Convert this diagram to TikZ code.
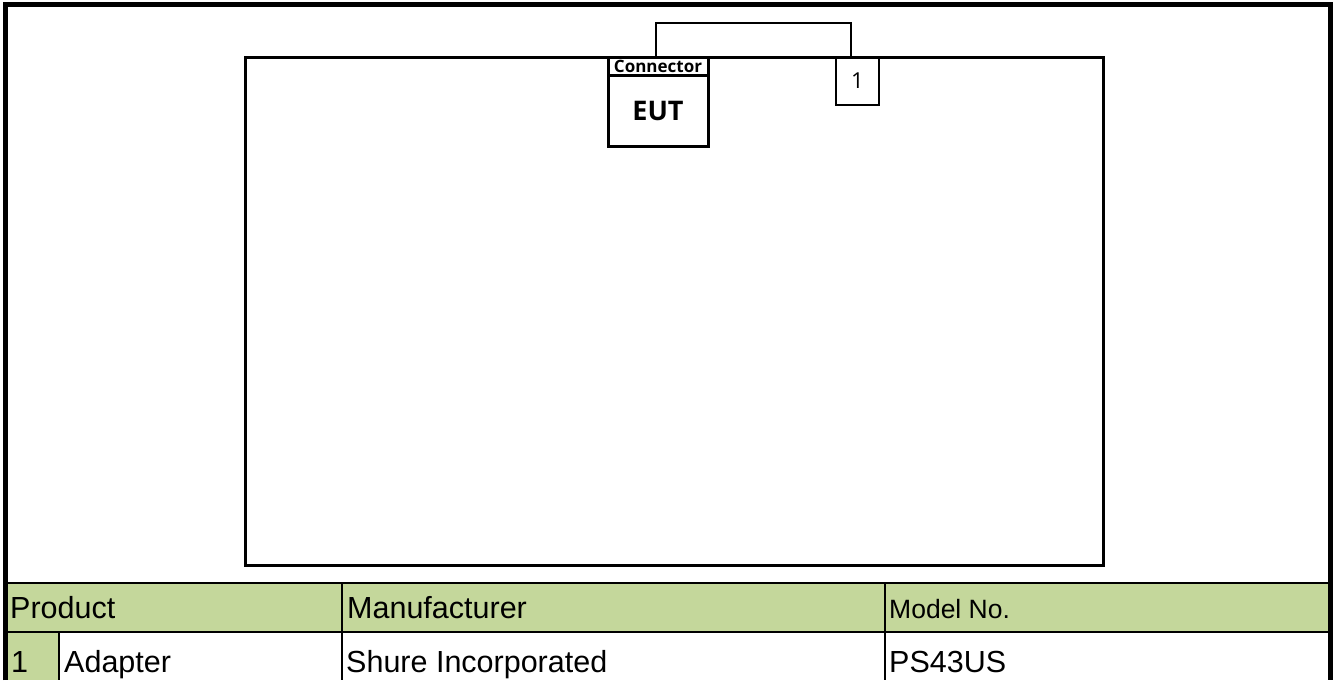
\documentclass[tikz,border=0pt]{standalone}
\usepackage{fontspec}
\setmainfont{Liberation Sans}
\newfontfamily\diagfont{Open Sans}
\usetikzlibrary{positioning}
\definecolor{cellgreen}{HTML}{C4D79B}

\begin{document}
\begin{tikzpicture}[
  x=1pt, y=-1pt,
  box/.style={draw, rectangle, line width=3pt, inner sep=0pt, outer sep=0pt, align=center},
  cell/.style={anchor=base west, inner sep=0pt, font=\fontsize{30.5}{32}\selectfont},
  grid/.style={line width=2.5pt}
]
  \useasboundingbox (0,0) rectangle (1335,680);

  % setup area
  \node[box, minimum width=858pt, minimum height=508pt] (setup) at (674,311) {};
  \node[box, minimum width=100pt, minimum height=71pt,
        font=\diagfont\bfseries\fontsize{27}{29}\selectfont] (eut) at (658,110.5) {EUT};
  \node[box, minimum width=100pt, minimum height=18pt, text height=12pt, text depth=0pt,
        font=\diagfont\bfseries\fontsize{17}{18}\selectfont, above=0pt of eut] (conn) {Connector};
  \node[box, line width=2.5pt, minimum width=43pt, minimum height=48pt,
        font=\diagfont\fontsize{22}{24}\selectfont] (acc) at (857.5,81) {1};

  % cable
  \draw[line width=2.5pt] ([xshift=-2pt]conn.north) -- ++(0,-34) -| ([xshift=-6.5pt]acc.north);

  % table
  \fill[cellgreen] (5,583) rectangle (1330,632);
  \fill[cellgreen] (5,632) rectangle (59,680);
  \draw[grid] (5,583) -- (1330,583);
  \draw[grid] (5,632) -- (1330,632);
  \draw[grid] (342,583) -- (342,680);
  \draw[grid] (885,583) -- (885,680);
  \draw[grid] (59,632) -- (59,680);

  \node[cell] (hprod) at (10,618) {Product};
  \node[cell] (hmanu) at (347,618) {Manufacturer};
  \node[cell, font=\fontsize{26.5}{28}\selectfont] (hmodel) at (889,618) {Model No.};
  \node[cell] (num1) at (11,672) {1};
  \node[cell] (prod1) at (64,672) {Adapter};
  \node[cell] (manu1) at (346,672) {Shure Incorporated};
  \node[cell] (model1) at (889,672) {PS43US};

  % outer frame
  \draw[line width=5pt] (5,680) -- (5,4) -- (1330,4) -- (1330,680);
\end{tikzpicture}
\end{document}
